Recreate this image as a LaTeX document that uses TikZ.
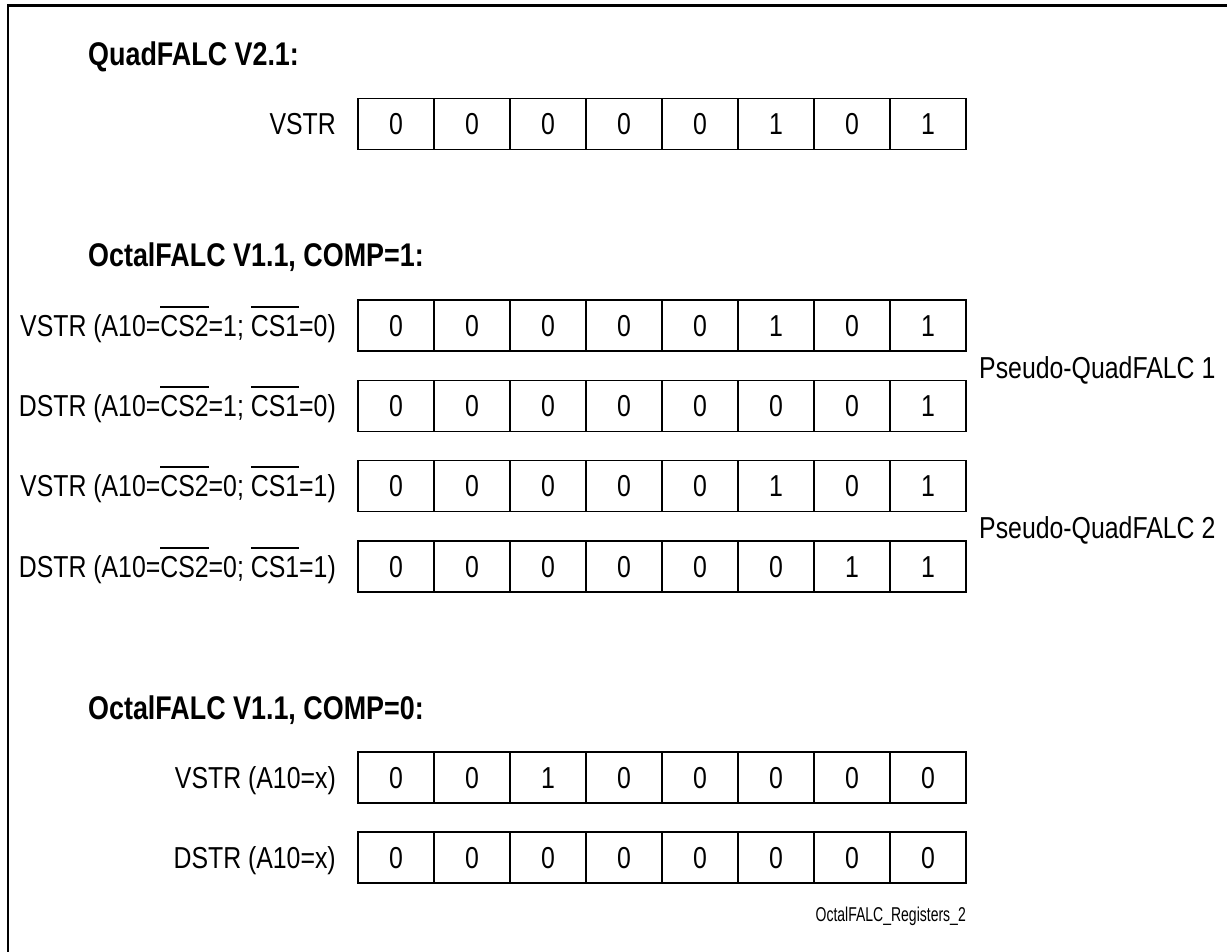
\documentclass[tikz,border=0pt]{standalone}
\usepackage{fontspec}
\setmainfont{Liberation Sans}[FakeStretch=0.82]
\newfontfamily\tinyfont{Liberation Sans}[FakeStretch=0.70]
\newcommand\ovl[1]{\leavevmode\setbox0=\hbox{#1}\rlap{\raisebox{\dimexpr\ht0+7.5pt\relax}{\rule{\wd0}{2pt}}}\box0}
\newcommand\regrow[3]{%
  \foreach \b [count=\i] in {#3} {
    \node[cell] (#1-\i) at ({358+76*(\i-0.5)},#2) {\b};
  }}
\tikzset{
  txt/.style={inner sep=0pt, font=\fontsize{30.3}{36}\selectfont, text height=21.7pt, text depth=0pt},
  cell/.style={txt, draw, line width=1.8pt, minimum width=76pt, minimum height=51pt},
  lbl/.style={txt, anchor=east},
  side/.style={txt, anchor=west},
  ttl/.style={anchor=west, inner sep=0pt, font=\fontsize{32.8}{38}\selectfont\bfseries, text height=23.5pt, text depth=0pt},
  frame/.style={line width=2.6pt}
}
\begin{document}
\begin{tikzpicture}[x=1pt,y=-1pt]
\useasboundingbox (0,0) rectangle (1227,952);
\fill[white] (0,0) rectangle (1227,952);
\coordinate (fa) at (8,980);
\coordinate (fb) at (8,5.5);
\coordinate (fc) at (1250,5.5);
\draw[frame] (fa) -- (fb) -- (fc);

\node[ttl] (t1) at (88,54) {QuadFALC V2.1:};
\node[ttl] (t2) at (88,255) {OctalFALC V1.1, COMP=1:};
\node[ttl] (t3) at (88,708) {OctalFALC V1.1, COMP=0:};

\regrow{r1}{124}{0,0,0,0,0,1,0,1}
\regrow{r2}{325.5}{0,0,0,0,0,1,0,1}
\regrow{r3}{406}{0,0,0,0,0,0,0,1}
\regrow{r4}{486}{0,0,0,0,0,1,0,1}
\regrow{r5}{566.5}{0,0,0,0,0,0,1,1}
\regrow{r6}{777.5}{0,0,1,0,0,0,0,0}
\regrow{r7}{857.5}{0,0,0,0,0,0,0,0}

\node[lbl] (l1) at (336,124) {VSTR};
\node[lbl] (l2) at (336,325.5) {VSTR (A10=\ovl{CS2}=1; \ovl{CS1}=0)};
\node[lbl] (l3) at (336,406) {DSTR (A10=\ovl{CS2}=1; \ovl{CS1}=0)};
\node[lbl] (l4) at (336,486) {VSTR (A10=\ovl{CS2}=0; \ovl{CS1}=1)};
\node[lbl] (l5) at (336,566.5) {DSTR (A10=\ovl{CS2}=0; \ovl{CS1}=1)};
\node[lbl] (l6) at (336,777.5) {VSTR (A10=x)};
\node[lbl] (l7) at (336,857.5) {DSTR (A10=x)};

\node[side] (p1) at (979,367.5) {Pseudo-QuadFALC 1};
\node[side] (p2) at (979,528) {Pseudo-QuadFALC 2};

\node[anchor=east, inner sep=0pt, font=\fontsize{20}{24}\selectfont\tinyfont] (fig) at (966,916) {OctalFALC\_Registers\_2};
\end{tikzpicture}
\end{document}
